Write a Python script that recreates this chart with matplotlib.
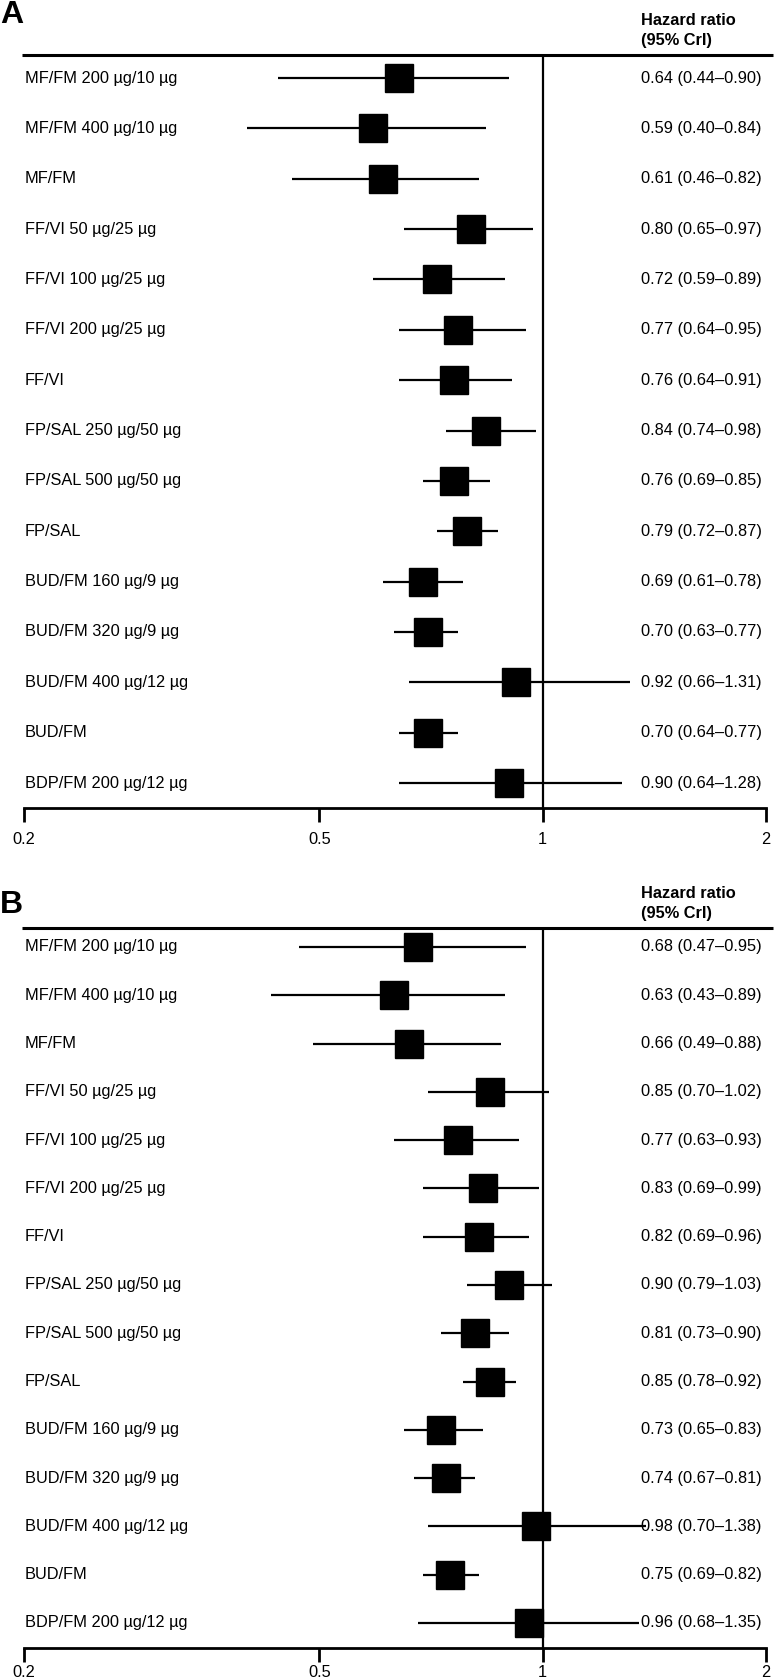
import numpy as np
import matplotlib
matplotlib.use("Agg")
import matplotlib.pyplot as plt
import matplotlib.transforms as mtrans

plt.rcParams['font.family'] = ['Liberation Sans', 'DejaVu Sans']

labels = ["MF/FM 200 µg/10 µg", "MF/FM 400 µg/10 µg", "MF/FM",
          "FF/VI 50 µg/25 µg", "FF/VI 100 µg/25 µg", "FF/VI 200 µg/25 µg", "FF/VI",
          "FP/SAL 250 µg/50 µg", "FP/SAL 500 µg/50 µg", "FP/SAL",
          "BUD/FM 160 µg/9 µg", "BUD/FM 320 µg/9 µg", "BUD/FM 400 µg/12 µg", "BUD/FM",
          "BDP/FM 200 µg/12 µg"]

# panel A
hr_a = [0.64, 0.59, 0.61, 0.80, 0.72, 0.77, 0.76, 0.84, 0.76, 0.79, 0.69, 0.70, 0.92, 0.70, 0.90]
lo_a = [0.44, 0.40, 0.46, 0.65, 0.59, 0.64, 0.64, 0.74, 0.69, 0.72, 0.61, 0.63, 0.66, 0.64, 0.64]
hi_a = [0.90, 0.84, 0.82, 0.97, 0.89, 0.95, 0.91, 0.98, 0.85, 0.87, 0.78, 0.77, 1.31, 0.77, 1.28]

# panel B
hr_b = [0.68, 0.63, 0.66, 0.85, 0.77, 0.83, 0.82, 0.90, 0.81, 0.85, 0.73, 0.74, 0.98, 0.75, 0.96]
lo_b = [0.47, 0.43, 0.49, 0.70, 0.63, 0.69, 0.69, 0.79, 0.73, 0.78, 0.65, 0.67, 0.70, 0.69, 0.68]
hi_b = [0.95, 0.89, 0.88, 1.02, 0.93, 0.99, 0.96, 1.03, 0.90, 0.92, 0.83, 0.81, 1.38, 0.82, 1.35]

ticks = [0.2, 0.5, 1, 2]
tick_labels = ["0.2", "0.5", "1", "2"]

W, H = 778, 1679
fig = plt.figure(figsize=(W / 100, H / 100), dpi=100)
FS = 11.8


def panel(letter, hr, lo, hi, top_px, first_px, last_px, bottom_px, letter_top, tick_pad):
    x0, x1 = 24, 766
    ax = fig.add_axes([x0 / W, 1 - bottom_px / H, (x1 - x0) / W, (bottom_px - top_px) / H])
    n = len(hr)
    step = (last_px - first_px) / (n - 1)
    y = np.arange(n)
    ax.set_xscale('log')
    ax.set_xlim(0.2, 2)
    ax.set_ylim((n - 1) + (bottom_px - last_px) / step, -(first_px - top_px) / step)

    # CI lines and point estimates
    ax.hlines(y, lo, hi, color='black', lw=1.6)
    ax.plot(hr, y, 's', ms=20, color='black', mec='black')
    ax.axvline(1, color='black', lw=1.6)

    for s in ['top', 'right', 'left']:
        ax.spines[s].set_visible(False)
    ax.spines['bottom'].set_linewidth(2)
    ax.set_yticks([])
    ax.set_xticks(ticks)
    ax.set_xticklabels(tick_labels)
    ax.minorticks_off()
    ax.tick_params(axis='x', length=10, width=2, pad=tick_pad, labelsize=FS)

    # header rule running past the axes
    tr = mtrans.blended_transform_factory(ax.transAxes, ax.transData)
    ytop = ax.get_ylim()[1]
    ax.plot([(22 - x0) / (x1 - x0), (773 - x0) / (x1 - x0)], [ytop, ytop],
            color='black', lw=2.2, transform=tr, clip_on=False, solid_capstyle='butt')

    vx = (641 - x0) / (x1 - x0)
    lx = (25 - x0) / (x1 - x0)
    for i in range(n):
        ax.text(lx, i, labels[i], transform=tr, va='center', ha='left', fontsize=FS)
        ax.text(vx, i, f"{hr[i]:.2f} ({lo[i]:.2f}\u2013{hi[i]:.2f})", transform=tr,
                va='center', ha='left', fontsize=FS)

    fig.text(641 / W, 1 - (top_px - 24.5) / H, "Hazard ratio\n(95% CrI)", fontsize=FS,
             fontweight='bold', va='center', ha='left', linespacing=1.4)
    fig.text(0.0 / W, 1 - letter_top / H, letter, fontsize=23, fontweight='bold',
             va='top', ha='left')
    return ax


panel("A", hr_a, lo_a, hi_a, 55, 78, 783, 808, 0, 7)
panel("B", hr_b, lo_b, hi_b, 928, 947, 1623, 1648, 890, 2.5)

fig.savefig("out.png", dpi=100)
